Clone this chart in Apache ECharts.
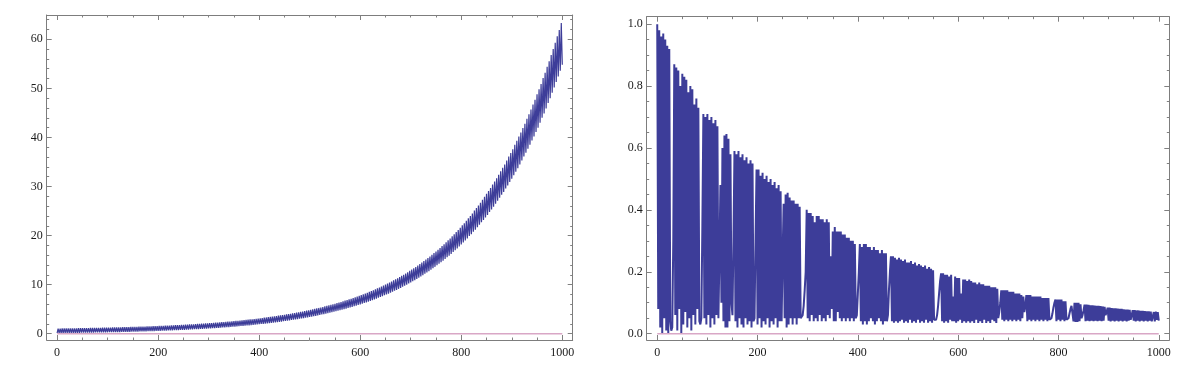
<!DOCTYPE html>
<html>
<head>
<meta charset="utf-8">
<script src="https://cdn.jsdelivr.net/npm/echarts@6/dist/echarts.min.js"></script>
<style>
  html, body { margin: 0; padding: 0; background: #fff; }
  #chart { width: 1202px; height: 377px; }
</style>
</head>
<body>
<div id="chart"></div>
<script>
// left panel: growing oscillation. troughs at x = 0, 4, 8, ... and peaks at x = 2, 6, 10, ...
const leftStep = 4;
const leftLow = [
  0.13, 0.13, 0.14, 0.14, 0.15, 0.16, 0.16, 0.17, 0.17, 0.18,
  0.19, 0.19, 0.20, 0.21, 0.21, 0.22, 0.22, 0.23, 0.24, 0.25,
  0.25, 0.26, 0.27, 0.28, 0.29, 0.30, 0.30, 0.31, 0.32, 0.33,
  0.34, 0.35, 0.36, 0.37, 0.38, 0.39, 0.40, 0.41, 0.42, 0.44,
  0.45, 0.46, 0.47, 0.48, 0.50, 0.51, 0.52, 0.54, 0.55, 0.57,
  0.58, 0.60, 0.61, 0.63, 0.64, 0.66, 0.68, 0.69, 0.71, 0.73,
  0.75, 0.76, 0.78, 0.80, 0.82, 0.84, 0.86, 0.89, 0.91, 0.93,
  0.95, 0.98, 1.00, 1.02, 1.05, 1.07, 1.10, 1.13, 1.15, 1.18,
  1.21, 1.24, 1.27, 1.30, 1.33, 1.36, 1.39, 1.43, 1.46, 1.50,
  1.53, 1.57, 1.60, 1.64, 1.68, 1.72, 1.76, 1.80, 1.84, 1.89,
  1.93, 1.98, 2.02, 2.07, 2.12, 2.17, 2.22, 2.27, 2.32, 2.37,
  2.43, 2.48, 2.54, 2.60, 2.66, 2.72, 2.79, 2.85, 2.91, 2.98,
  3.05, 3.12, 3.19, 3.26, 3.34, 3.41, 3.49, 3.57, 3.65, 3.74,
  3.82, 3.91, 4.00, 4.09, 4.18, 4.28, 4.38, 4.48, 4.58, 4.68,
  4.79, 4.90, 5.01, 5.12, 5.24, 5.36, 5.48, 5.60, 5.73, 5.86,
  5.99, 6.12, 6.26, 6.40, 6.55, 6.70, 6.85, 7.00, 7.16, 7.32,
  7.49, 7.65, 7.83, 8.00, 8.18, 8.37, 8.56, 8.75, 8.94, 9.15,
  9.35, 9.56, 9.78, 10.00, 10.22, 10.45, 10.68, 10.92, 11.17, 11.42,
  11.68, 11.94, 12.21, 12.48, 12.76, 13.04, 13.34, 13.63, 13.94, 14.25,
  14.57, 14.90, 15.23, 15.58, 15.92, 16.27, 16.65, 17.02, 17.39, 17.78,
  18.2, 18.6, 19.0, 19.4, 19.9, 20.3, 20.8, 21.2, 21.7, 22.2,
  22.7, 23.2, 23.7, 24.2, 24.8, 25.3, 25.9, 26.5, 27.1, 27.7,
  28.3, 28.9, 29.6, 30.2, 30.9, 31.6, 32.3, 33.0, 33.7, 34.5,
  35.3, 36.1, 36.9, 37.7, 38.5, 39.4, 40.2, 41.1, 42.0, 43.0,
  44.0, 44.9, 45.9, 47.0, 48.0, 49.1, 50.2, 51.3, 52.4, 53.6,
  54.8
];
const leftHigh = [
  1.06, 1.06, 1.07, 1.07, 1.08, 1.09, 1.09, 1.10, 1.11, 1.11,
  1.12, 1.13, 1.14, 1.14, 1.15, 1.16, 1.17, 1.17, 1.18, 1.19,
  1.20, 1.21, 1.22, 1.23, 1.24, 1.25, 1.26, 1.27, 1.28, 1.29,
  1.30, 1.31, 1.32, 1.34, 1.35, 1.36, 1.37, 1.38, 1.40, 1.41,
  1.43, 1.44, 1.45, 1.47, 1.48, 1.50, 1.51, 1.53, 1.55, 1.56,
  1.58, 1.60, 1.61, 1.63, 1.65, 1.67, 1.69, 1.71, 1.73, 1.75,
  1.77, 1.79, 1.82, 1.84, 1.86, 1.89, 1.91, 1.93, 1.96, 1.99,
  2.01, 2.04, 2.07, 2.10, 2.12, 2.15, 2.18, 2.21, 2.25, 2.28,
  2.31, 2.35, 2.38, 2.42, 2.45, 2.49, 2.53, 2.56, 2.60, 2.64,
  2.69, 2.73, 2.77, 2.81, 2.86, 2.91, 2.95, 3.00, 3.05, 3.10,
  3.15, 3.20, 3.26, 3.31, 3.37, 3.42, 3.48, 3.54, 3.60, 3.67,
  3.73, 3.80, 3.86, 3.93, 4.00, 4.07, 4.15, 4.22, 4.29, 4.37,
  4.45, 4.53, 4.62, 4.70, 4.79, 4.88, 4.97, 5.06, 5.16, 5.25,
  5.35, 5.45, 5.56, 5.66, 5.77, 5.88, 6.00, 6.11, 6.23, 6.35,
  6.47, 6.60, 6.73, 6.86, 7.00, 7.13, 7.28, 7.42, 7.57, 7.72,
  7.87, 8.03, 8.19, 8.35, 8.52, 8.69, 8.87, 9.05, 9.23, 9.42,
  9.61, 9.81, 10.01, 10.22, 10.43, 10.64, 10.86, 11.08, 11.31, 11.54,
  11.78, 12.03, 12.28, 12.53, 12.80, 13.06, 13.33, 13.61, 13.90, 14.19,
  14.49, 14.79, 15.10, 15.42, 15.75, 16.08, 16.42, 16.77, 17.12, 17.48,
  17.86, 18.24, 18.63, 19.03, 19.42, 19.84, 20.27, 20.70, 21.14, 21.60,
  22.1, 22.5, 23.0, 23.5, 24.0, 24.5, 25.1, 25.6, 26.1, 26.7,
  27.3, 27.9, 28.5, 29.1, 29.7, 30.4, 31.0, 31.7, 32.4, 33.1,
  33.8, 34.5, 35.3, 36.1, 36.8, 37.6, 38.5, 39.3, 40.2, 41.0,
  41.9, 42.8, 43.8, 44.7, 45.7, 46.7, 47.7, 48.8, 49.8, 50.9,
  52.1, 53.2, 54.4, 55.5, 56.8, 58.0, 59.3, 60.6, 61.9, 63.3
];

// right panel: decaying oscillation, one value every 2 steps
const rightStep = 2;
const rightValues = [
  // x 0
  1.00, 0.08, 0.98, 0.02, 0.96, 0.00, 0.97, 0.05, 0.95, 0.01, 0.93, 0.00, 0.92, 0.04,
  0.01, 0.02, 0.30,
  // x 34
  0.87, 0.06, 0.86, 0.01, 0.85, 0.08, 0.80, 0.00, 0.84, 0.03, 0.83, 0.07, 0.82, 0.02,
  0.78, 0.05, 0.80, 0.01, 0.79, 0.06, 0.74, 0.03, 0.76, 0.08, 0.73, 0.04,
  0.03, 0.05, 0.35,
  // x 92
  0.71, 0.05, 0.70, 0.03, 0.71, 0.06, 0.69, 0.02, 0.70, 0.05, 0.68, 0.03, 0.69, 0.06, 0.67,
  0.05, 0.25,
  // x 126
  0.48, 0.10, 0.60, 0.04, 0.64, 0.02, 0.645, 0.02, 0.63, 0.04, 0.58, 0.10,
  0.06, 0.30,
  // x 154
  0.59, 0.04, 0.58, 0.02, 0.59, 0.05, 0.57, 0.03, 0.58, 0.02, 0.56, 0.05, 0.57, 0.03,
  0.55, 0.04, 0.56, 0.02, 0.55,
  0.04, 0.05, 0.30,
  // x 198
  0.53, 0.03, 0.53, 0.05, 0.51, 0.02, 0.52, 0.04, 0.50, 0.03, 0.51, 0.05, 0.49, 0.02,
  0.50, 0.04, 0.48, 0.03, 0.49, 0.05, 0.47, 0.02, 0.48, 0.04, 0.46,
  0.04, 0.25,
  // x 252
  0.42, 0.05, 0.45, 0.02, 0.455, 0.03, 0.44, 0.05, 0.43, 0.03, 0.43, 0.05, 0.42, 0.03,
  0.42, 0.05, 0.41,
  0.05, 0.05, 0.06, 0.09, 0.14, 0.20,
  // x 298
  0.40, 0.05, 0.39, 0.04, 0.39, 0.06, 0.38, 0.04, 0.36, 0.05, 0.38, 0.04, 0.38, 0.06,
  0.37, 0.04, 0.37, 0.05, 0.36, 0.04, 0.37, 0.06, 0.36, 0.05,
  // x 346
  0.25, 0.08, 0.33, 0.04, 0.345, 0.04, 0.33, 0.07,
  // x 362
  0.33, 0.05, 0.33, 0.04, 0.32, 0.05, 0.32, 0.04, 0.31, 0.05, 0.31, 0.04, 0.30, 0.05,
  0.30, 0.04, 0.29, 0.05,
  0.06, 0.13, 0.20,
  // x 404
  0.29, 0.04, 0.28, 0.03, 0.29, 0.04, 0.29, 0.03, 0.28, 0.04, 0.28, 0.05, 0.27, 0.04,
  0.28, 0.03, 0.27, 0.04, 0.27, 0.05, 0.26, 0.04, 0.27, 0.03, 0.26, 0.04, 0.26,
  0.04, 0.06, 0.14, 0.20,
  // x 466
  0.25, 0.04, 0.25, 0.035, 0.245, 0.04, 0.24, 0.035, 0.245, 0.04, 0.24, 0.045,
  0.235, 0.035, 0.24, 0.04, 0.23, 0.035, 0.23, 0.045, 0.235, 0.035, 0.225, 0.04,
  0.23, 0.035, 0.22, 0.045, 0.225, 0.035, 0.22, 0.04, 0.215, 0.035, 0.22, 0.045,
  0.21, 0.035, 0.215, 0.04, 0.21, 0.035, 0.205, 0.045,
  0.04, 0.045, 0.06, 0.09, 0.13, 0.17,
  // x 566
  0.195, 0.04, 0.195, 0.035, 0.19, 0.04, 0.19, 0.035, 0.185, 0.045, 0.19, 0.04,
  0.12, 0.04, 0.185, 0.035, 0.18, 0.04, 0.18, 0.045, 0.13, 0.035, 0.175, 0.04,
  0.175, 0.035,
  // x 618
  0.17, 0.04, 0.175, 0.035, 0.17, 0.04, 0.165, 0.035, 0.165, 0.045, 0.16, 0.035,
  0.165, 0.04, 0.16, 0.035, 0.16, 0.045, 0.155, 0.035, 0.155, 0.04, 0.155, 0.035,
  0.15, 0.045, 0.15, 0.04, 0.15, 0.035, 0.145, 0.05,
  0.07, 0.10,
  // x 686
  0.14, 0.045, 0.14, 0.04, 0.14, 0.045, 0.14, 0.04, 0.135, 0.045, 0.135, 0.04,
  0.135, 0.045, 0.13, 0.04, 0.13, 0.045, 0.13, 0.04, 0.125, 0.05, 0.12,
  0.07, 0.09,
  // x 736
  0.125, 0.04, 0.125, 0.045, 0.125, 0.04, 0.12, 0.045, 0.12, 0.04, 0.12, 0.045,
  0.12, 0.04, 0.12, 0.045, 0.115, 0.04, 0.115, 0.045, 0.115, 0.04, 0.115, 0.045,
  0.045, 0.05, 0.065, 0.085, 0.10,
  // x 794
  0.11, 0.04, 0.11, 0.045, 0.11, 0.04, 0.11, 0.045, 0.105, 0.04, 0.105, 0.045,
  0.045, 0.05, 0.065, 0.08, 0.09,
  // x 828
  0.095, 0.04, 0.10, 0.038, 0.10, 0.038, 0.10, 0.04, 0.095, 0.05,
  0.06, 0.075,
  // x 852
  0.094, 0.04, 0.094, 0.042, 0.093, 0.04, 0.092, 0.042, 0.092, 0.04, 0.091, 0.042,
  0.09, 0.04, 0.09, 0.042, 0.089, 0.04, 0.088, 0.042, 0.087,
  0.06, 0.07,
  // x 898
  0.084, 0.042, 0.084, 0.04, 0.083, 0.042, 0.082, 0.04, 0.082, 0.042, 0.081, 0.04,
  0.08, 0.042, 0.08, 0.04, 0.079, 0.042, 0.078, 0.04, 0.078, 0.042, 0.077,
  0.045, 0.06,
  // x 948
  0.076, 0.042, 0.076, 0.04, 0.075, 0.042, 0.075, 0.04, 0.074, 0.042, 0.074, 0.04,
  0.073, 0.042, 0.072, 0.04, 0.072, 0.042, 0.071, 0.04,
  // x 988
  0.055, 0.07, 0.04, 0.071, 0.045, 0.07, 0.042
];

// second (flat) list drawn in pink in both panels
const baseX = [0, 1000];
const baseY = [0, 0];

// ticks
const xMajor = [0, 200, 400, 600, 800, 1000];
const xMinor = [50, 100, 150, 250, 300, 350, 450, 500, 550, 650, 700, 750, 850, 900, 950];
const leftYMajor = [0, 10, 20, 30, 40, 50, 60];
const leftYMinor = [2, 4, 6, 8, 12, 14, 16, 18, 22, 24, 26, 28, 32, 34, 36, 38, 42, 44, 46, 48, 52, 54, 56, 58, 62, 64];
const rightYMajor = [0, 0.2, 0.4, 0.6, 0.8, 1.0];
const rightYMinor = [0.05, 0.1, 0.15, 0.25, 0.3, 0.35, 0.45, 0.5, 0.55, 0.65, 0.7, 0.75, 0.85, 0.9, 0.95];

const frameColor = "#7d7d7d";
const tickColor = "#808080";
const blue = "#3d3d99";
const pink = "#d9a7c6";
const labelFont = { fontFamily: "Liberation Serif", fontSize: 12, color: "#1a1a1a" };

const chart = echarts.init(document.getElementById("chart"));

function makeAxes(dim, gridIndex, min, max, major, minor, labelFormatter) {
  const sides = dim === "x" ? ["bottom", "top"] : ["left", "right"];
  const axes = [];
  sides.forEach((side, s) => {
    // major ticks (+ labels on bottom/left)
    axes.push({
      type: "value", gridIndex, min, max, position: side,
      axisLine: { show: true, onZero: false, lineStyle: { color: frameColor, width: 1 } },
      axisTick: { show: true, inside: true, length: 5, customValues: major, lineStyle: { color: tickColor } },
      axisLabel: s === 0 ? Object.assign({ show: true, customValues: major, margin: dim === "x" ? 7 : 4, formatter: labelFormatter }, labelFont) : { show: false },
      splitLine: { show: false }
    });
    // minor ticks
    axes.push({
      type: "value", gridIndex, min, max, position: side,
      axisLine: { show: false, onZero: false },
      axisTick: { show: true, inside: true, length: 2.5, customValues: minor, lineStyle: { color: tickColor } },
      axisLabel: { show: false },
      splitLine: { show: false }
    });
  });
  return axes;
}

const xAxes = [
  ...makeAxes("x", 0, -20.6, 1020.6, xMajor, xMinor, v => String(v)),
  ...makeAxes("x", 1, -21, 1021, xMajor, xMinor, v => String(v))
];
const yAxes = [
  ...makeAxes("y", 0, -1.28, 64.95, leftYMajor, leftYMinor, v => String(v)),
  ...makeAxes("y", 1, -0.0204, 1.024, rightYMajor, rightYMinor, v => v.toFixed(1))
];

// zigzag: trough, peak, trough, ...
const leftData = [];
leftLow.forEach((lo, i) => {
  leftData.push([i * leftStep, lo]);
  if (i < leftHigh.length) leftData.push([i * leftStep + leftStep / 2, leftHigh[i]]);
});
const rightData = rightValues.map((v, i) => [i * rightStep, v]);
const baseData = baseX.map((x, i) => [x, baseY[i]]);

chart.setOption({
  animation: false,
  backgroundColor: "#ffffff",
  grid: [
    { left: 46.7, top: 15, width: 526, height: 325 },
    { left: 646.7, top: 16.7, width: 522.6, height: 323.3 }
  ],
  xAxis: xAxes,
  yAxis: yAxes,
  series: [
    {
      type: "line", xAxisIndex: 0, yAxisIndex: 0, data: leftData,
      showSymbol: false, sampling: "none", lineStyle: { color: blue, width: 1.2 }, silent: true
    },
    {
      type: "line", xAxisIndex: 0, yAxisIndex: 0, data: baseData,
      showSymbol: false, lineStyle: { color: pink, width: 1.5 }, silent: true
    },
    {
      type: "line", xAxisIndex: 4, yAxisIndex: 4, data: rightData,
      showSymbol: false, sampling: "none", lineStyle: { color: blue, width: 2 }, silent: true
    },
    {
      type: "line", xAxisIndex: 4, yAxisIndex: 4, data: baseData,
      showSymbol: false, lineStyle: { color: pink, width: 1.5 }, silent: true
    }
  ]
});
</script>
</body>
</html>
